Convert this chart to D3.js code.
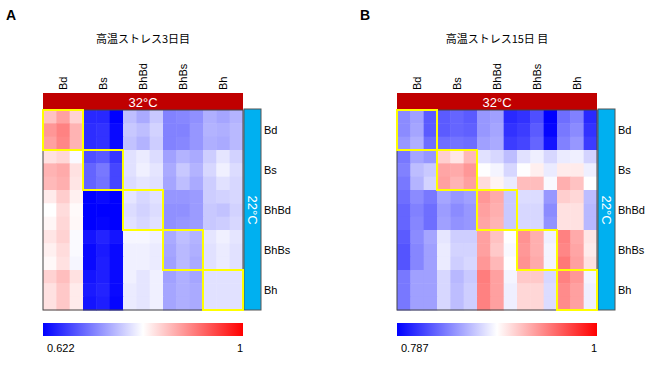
<!DOCTYPE html>
<html>
<head>
<meta charset="utf-8">
<script src="https://cdn.jsdelivr.net/npm/d3@7"></script>
<style>
  body { margin: 0; background: #fff; }
  text { font-family: "Liberation Sans", Arial, "Noto Sans CJK JP", sans-serif; }
</style>
</head>
<body>
<div id="chart"></div>
<script>
// sample groups (3 replicates each), same order on both axes
const groups = ["Bd", "Bs", "BhBd", "BhBs", "Bh"];
const reps = 3;

// panel A: 22°C samples (rows) vs 32°C samples (columns), day 3
const heatA = [
  [0.856, 0.881, 0.844, 0.652, 0.652, 0.622, 0.763, 0.748, 0.770, 0.718, 0.722, 0.729, 0.752, 0.744, 0.755],
  [0.889, 0.904, 0.867, 0.655, 0.659, 0.629, 0.770, 0.763, 0.778, 0.718, 0.718, 0.733, 0.755, 0.752, 0.759],
  [0.881, 0.900, 0.867, 0.655, 0.659, 0.629, 0.766, 0.755, 0.774, 0.718, 0.722, 0.733, 0.752, 0.748, 0.759],
  [0.833, 0.841, 0.807, 0.681, 0.689, 0.663, 0.789, 0.796, 0.785, 0.741, 0.755, 0.748, 0.774, 0.792, 0.778],
  [0.867, 0.874, 0.833, 0.696, 0.711, 0.674, 0.789, 0.800, 0.792, 0.748, 0.770, 0.755, 0.781, 0.800, 0.785],
  [0.863, 0.870, 0.830, 0.696, 0.707, 0.674, 0.785, 0.792, 0.789, 0.744, 0.763, 0.748, 0.774, 0.789, 0.781],
  [0.826, 0.848, 0.822, 0.622, 0.629, 0.622, 0.792, 0.781, 0.789, 0.733, 0.733, 0.737, 0.774, 0.778, 0.781],
  [0.811, 0.837, 0.815, 0.622, 0.622, 0.622, 0.785, 0.778, 0.785, 0.729, 0.729, 0.737, 0.770, 0.766, 0.778],
  [0.818, 0.841, 0.816, 0.622, 0.626, 0.622, 0.789, 0.781, 0.789, 0.729, 0.733, 0.737, 0.770, 0.774, 0.781],
  [0.830, 0.844, 0.807, 0.637, 0.648, 0.637, 0.804, 0.804, 0.800, 0.748, 0.763, 0.755, 0.792, 0.800, 0.792],
  [0.822, 0.837, 0.807, 0.629, 0.641, 0.629, 0.800, 0.800, 0.796, 0.744, 0.759, 0.752, 0.789, 0.796, 0.789],
  [0.816, 0.833, 0.804, 0.629, 0.644, 0.629, 0.800, 0.800, 0.796, 0.741, 0.759, 0.748, 0.789, 0.796, 0.789],
  [0.844, 0.859, 0.833, 0.637, 0.644, 0.629, 0.800, 0.792, 0.800, 0.741, 0.752, 0.744, 0.789, 0.789, 0.789],
  [0.833, 0.852, 0.826, 0.641, 0.648, 0.629, 0.796, 0.792, 0.800, 0.744, 0.752, 0.748, 0.789, 0.789, 0.789],
  [0.833, 0.852, 0.826, 0.637, 0.644, 0.626, 0.796, 0.792, 0.800, 0.744, 0.752, 0.748, 0.789, 0.789, 0.789]
];

// panel B: day 15
const heatB = [
  [0.845, 0.854, 0.825, 0.825, 0.829, 0.825, 0.850, 0.854, 0.804, 0.808, 0.820, 0.787, 0.833, 0.841, 0.804],
  [0.845, 0.856, 0.825, 0.825, 0.829, 0.827, 0.850, 0.856, 0.808, 0.812, 0.825, 0.789, 0.837, 0.845, 0.808],
  [0.850, 0.860, 0.833, 0.833, 0.835, 0.833, 0.854, 0.858, 0.812, 0.816, 0.829, 0.795, 0.841, 0.850, 0.812],
  [0.837, 0.856, 0.850, 0.914, 0.904, 0.923, 0.881, 0.877, 0.866, 0.881, 0.887, 0.877, 0.885, 0.887, 0.875],
  [0.841, 0.866, 0.871, 0.931, 0.929, 0.937, 0.893, 0.889, 0.877, 0.893, 0.900, 0.885, 0.902, 0.902, 0.887],
  [0.837, 0.862, 0.875, 0.933, 0.925, 0.933, 0.908, 0.898, 0.885, 0.921, 0.921, 0.891, 0.927, 0.919, 0.893],
  [0.833, 0.845, 0.837, 0.856, 0.850, 0.854, 0.937, 0.929, 0.871, 0.879, 0.879, 0.850, 0.914, 0.910, 0.866],
  [0.829, 0.841, 0.833, 0.852, 0.845, 0.850, 0.933, 0.927, 0.871, 0.877, 0.877, 0.845, 0.906, 0.906, 0.864],
  [0.829, 0.843, 0.833, 0.854, 0.848, 0.850, 0.931, 0.925, 0.871, 0.877, 0.877, 0.848, 0.906, 0.906, 0.864],
  [0.825, 0.845, 0.856, 0.883, 0.873, 0.873, 0.933, 0.919, 0.893, 0.939, 0.927, 0.887, 0.946, 0.929, 0.904],
  [0.822, 0.843, 0.854, 0.885, 0.875, 0.875, 0.933, 0.916, 0.891, 0.937, 0.927, 0.889, 0.944, 0.931, 0.902],
  [0.822, 0.843, 0.854, 0.885, 0.873, 0.877, 0.937, 0.923, 0.893, 0.939, 0.929, 0.889, 0.950, 0.933, 0.906],
  [0.837, 0.854, 0.854, 0.877, 0.864, 0.871, 0.948, 0.933, 0.889, 0.916, 0.916, 0.877, 0.946, 0.937, 0.889],
  [0.837, 0.854, 0.854, 0.877, 0.866, 0.873, 0.946, 0.933, 0.887, 0.910, 0.910, 0.879, 0.942, 0.933, 0.887],
  [0.837, 0.854, 0.854, 0.877, 0.866, 0.873, 0.946, 0.933, 0.887, 0.910, 0.910, 0.879, 0.942, 0.933, 0.887]
];

const panels = [
  { letter: "A", title: "高温ストレス3日目", data: heatA, range: [0.622, 1], left: 43 },
  { letter: "B", title: "高温ストレス15日 目", data: heatB, range: [0.787, 1], left: 397 }
];
const colTitle = "32°C";
const rowTitle = "22°C";

const W = 650, H = 367;
const gridSize = 200, gridTop = 110;

const svg = d3.select("#chart").append("svg")
  .attr("width", W).attr("height", H);

const defs = svg.append("defs");
const grad = defs.append("linearGradient").attr("id", "cbar");
grad.selectAll("stop")
  .data(["#0000ff", "#ffffff", "#ff0000"])
  .enter().append("stop")
  .attr("offset", (d, i) => i * 50 + "%")
  .attr("stop-color", d => d);

const n = groups.length * reps;
const idx = d3.range(n);

panels.forEach(function(p) {
  const g = svg.append("g").attr("transform", `translate(${p.left}, ${gridTop})`);

  const x = d3.scaleBand().domain(idx).range([0, gridSize]);
  const y = d3.scaleBand().domain(idx).range([0, gridSize]);
  const color = d3.scaleLinear()
    .domain([p.range[0], (p.range[0] + p.range[1]) / 2, p.range[1]])
    .range(["#0000ff", "#ffffff", "#ff0000"]);

  // panel letter and title
  svg.append("text")
    .attr("x", p.left - 37).attr("y", 20)
    .style("font-size", "14px").style("font-weight", "bold")
    .text(p.letter);
  svg.append("text")
    .attr("x", p.left + gridSize / 2).attr("y", 43)
    .attr("text-anchor", "middle")
    .style("font-family", "'Noto Sans CJK JP', sans-serif")
    .style("font-size", "11px")
    .text(p.title);

  // cells
  const cells = [];
  p.data.forEach((row, r) => row.forEach((v, c) => cells.push({ r, c, v })));
  g.append("g").selectAll("rect")
    .data(cells)
    .enter().append("rect")
    .attr("x", d => x(d.c)).attr("y", d => y(d.r))
    .attr("width", x.bandwidth() + 0.5).attr("height", y.bandwidth() + 0.5)
    .attr("fill", d => color(d.v));

  // top annotation bar (32°C)
  g.append("rect")
    .attr("x", 0).attr("y", -17).attr("width", gridSize).attr("height", 17)
    .attr("fill", "#c00000");
  g.append("text")
    .attr("x", gridSize / 2).attr("y", -3.5)
    .attr("text-anchor", "middle").attr("fill", "#fff")
    .style("font-size", "13px")
    .text(colTitle);

  // side annotation bar (22°C)
  g.append("rect")
    .attr("x", gridSize + 1).attr("y", -1).attr("width", 17).attr("height", gridSize + 1)
    .attr("fill", "#00b0f0")
    .attr("stroke", "#555").attr("stroke-width", 1);
  g.append("text")
    .attr("transform", `translate(${gridSize + 5}, ${gridSize / 2}) rotate(90)`)
    .attr("text-anchor", "middle").attr("fill", "#fff")
    .style("font-size", "13px")
    .text(rowTitle);

  // frame
  g.append("rect")
    .attr("x", 0).attr("y", 0).attr("width", gridSize).attr("height", gridSize)
    .attr("fill", "none").attr("stroke", "#444").attr("stroke-width", 1);

  // column labels
  g.append("g").selectAll("text")
    .data(groups)
    .enter().append("text")
    .attr("transform", (d, i) => `translate(${x(i * reps) + x.bandwidth() * 1.5 + 4}, -20) rotate(-90)`)
    .style("font-size", "11px")
    .text(d => d);

  // row labels
  g.append("g").selectAll("text")
    .data(groups)
    .enter().append("text")
    .attr("x", gridSize + 21)
    .attr("y", (d, i) => y(i * reps) + y.bandwidth() * 1.5 + 4)
    .style("font-size", "11px")
    .text(d => d);

  // diagonal group boxes
  g.append("g").selectAll("rect")
    .data(groups)
    .enter().append("rect")
    .attr("x", (d, i) => x(i * reps)).attr("y", (d, i) => y(i * reps))
    .attr("width", x.bandwidth() * reps).attr("height", y.bandwidth() * reps)
    .attr("fill", "none").attr("stroke", "#ffff00").attr("stroke-width", 2);

  // colour bar
  g.append("rect")
    .attr("x", 0).attr("y", 213).attr("width", gridSize).attr("height", 13)
    .attr("fill", "url(#cbar)");
  g.append("text")
    .attr("x", 4).attr("y", 242)
    .style("font-size", "11px")
    .text(p.range[0]);
  g.append("text")
    .attr("x", gridSize).attr("y", 242)
    .attr("text-anchor", "end")
    .style("font-size", "11px")
    .text(p.range[1]);
});
</script>
</body>
</html>
